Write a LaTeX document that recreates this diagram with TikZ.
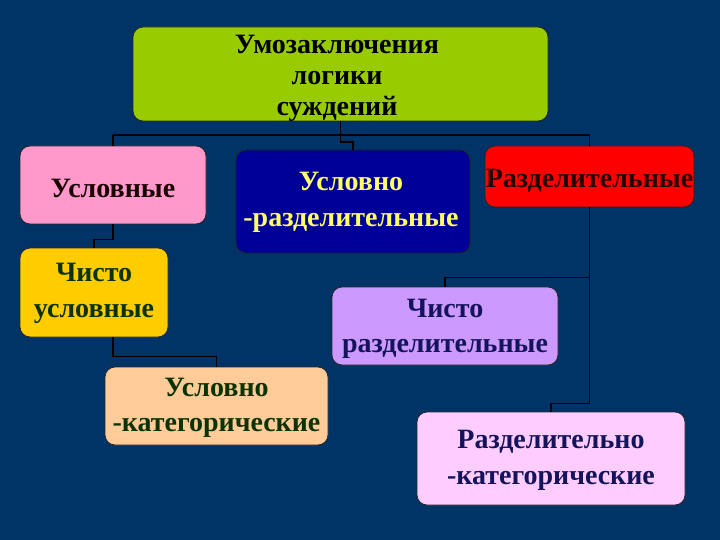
\documentclass[tikz,border=0pt]{standalone}
\usepackage{fontspec}
\setmainfont{Liberation Serif}
\usetikzlibrary{calc}
\definecolor{bgc}{HTML}{003366}
\definecolor{cgreen}{HTML}{99CC00}
\definecolor{cpink}{HTML}{FF99CC}
\definecolor{cnavy}{HTML}{000099}
\definecolor{cyel}{HTML}{FFFF66}
\definecolor{cred}{HTML}{FF0000}
\definecolor{cgold}{HTML}{FFCC00}
\definecolor{cpeach}{HTML}{FFCC99}
\definecolor{clav}{HTML}{CC99FF}
\definecolor{clpink}{HTML}{FFCCFF}
\definecolor{tgreen}{HTML}{0A3300}
\definecolor{tnavy}{HTML}{14145A}
\tikzset{
  box/.style={draw=black!85, line width=0.8pt, rounded corners=10pt, inner sep=0pt},
  lbl/.style={align=center, inner sep=0pt, font=\bfseries\fontsize{28}{35.5}\selectfont},
  conn/.style={draw=black, line width=1.8pt},
}
\begin{document}
\begin{tikzpicture}[x=1pt,y=-1pt]
\fill[bgc] (0,0) rectangle (720,540);
\useasboundingbox (0,0) rectangle (720,540);
% boxes
\node[box, fill=cgreen, minimum width=415pt, minimum height=94pt] (top) at (340.5,74) {};
\node[box, fill=cpink, minimum width=186pt, minimum height=78pt] (usl) at (113,185) {};
\node[box, fill=cnavy, minimum width=234pt, minimum height=103pt] (ur) at (353,201.5) {};
\node[box, fill=cred, minimum width=209pt, minimum height=61pt] (razd) at (589.5,176.5) {};
\node[box, fill=cgold, minimum width=148pt, minimum height=89pt] (chu) at (94,292.5) {};
\node[box, fill=cpeach, minimum width=223pt, minimum height=78pt] (uk) at (216.5,406) {};
\node[box, fill=clav, minimum width=226pt, minimum height=78pt] (chr) at (445,326) {};
\node[box, fill=clpink, minimum width=268pt, minimum height=93pt] (rk) at (551,458.5) {};
% texts
\node[lbl, text=black, font=\bfseries\fontsize{28}{31}\selectfont] (top-t) at ($(top)+(-3.5,4)$) {Умозаключения\\логики\\суждений};
\node[lbl, text=black!90!red] (usl-t) at ($(usl)+(0,3)$) {Условные};
\node[lbl, text=cyel] (ur-t) at ($(ur)+(-2,1)$) {Условно\\-разделительные};
\node[lbl, text=black!85!red] (razd-t) at ($(razd)+(0,4)$) {Разделительные};
\node[lbl, text=tgreen] (chu-t) at ($(chu)+(0,1)$) {Чисто\\условные};
\node[lbl, text=tgreen] (uk-t) at ($(uk)+(0,2)$) {Условно\\-категорические};
\node[lbl, text=tnavy] (chr-t) at ($(chr)+(0,3)$) {Чисто\\разделительные};
\node[lbl, text=tnavy] (rk-t) at ($(rk)+(0,2)$) {Разделительно\\-категорические};
% connectors
\coordinate (bl) at (usl.north |- 0,135);
\coordinate (br) at (razd.north |- 0,135);
\draw[conn] (bl) -- (br);
\draw[conn] (bl) -- (usl.north);
\draw[conn] (br) -- (razd.north);
\draw[conn] (top.south) -- ++(0,21) -| (ur.north);
\draw[conn] (usl.south) -- ++(0,15) -| (chu.north);
\draw[conn] (chu.south -| usl.south) -- ++(0,19) -| (uk.north);
\draw[conn] (razd.south) -- ++(0,70) -| (chr.north);
\draw[conn] (razd.south) -- ++(0,196) -| (rk.north);
\end{tikzpicture}
\end{document}
